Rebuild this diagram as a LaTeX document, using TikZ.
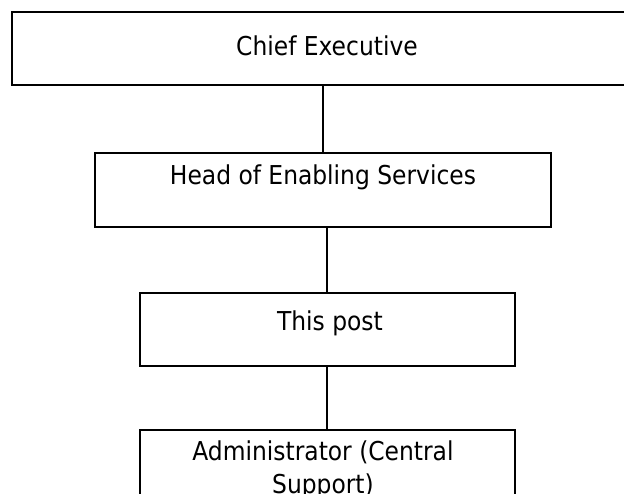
\documentclass[tikz,border=0pt]{standalone}
\usepackage{fontspec}
\setmainfont{DejaVu Sans Condensed}
\begin{document}
\begin{tikzpicture}[x=1pt,y=-1pt,
  orgbox/.style={draw=black,line width=1.7pt,fill=white},
  orglabel/.style={font=\fontsize{26}{33}\selectfont,align=center,inner sep=0pt,anchor=base},
  link/.style={draw=black,line width=1.7pt}]
\useasboundingbox (0,0) rectangle (624,493);
\begin{scope}
\clip (0,0) rectangle (624,493);
% boxes
\draw[orgbox] (12,12) rectangle (642,85);
\draw[orgbox] (95,153) rectangle (551,227);
\draw[orgbox] (140,293) rectangle (515,366);
\draw[orgbox] (140,430) rectangle (515,540);
% labels (positioned by baseline)
\node[orglabel] (ce) at (327,55) {Chief Executive};
\node[orglabel] (hes) at (323,184) {Head of Enabling Services};
\node[orglabel] (tp) at (330,330) {This post};
\node[orglabel] (adm1) at (323,460) {Administrator (Central};
\node[orglabel] (adm2) at (323,493) {Support)};
% connectors
\coordinate (c1a) at (323,85);
\coordinate (c1b) at (323,153);
\coordinate (c2a) at (327,227);
\coordinate (c2b) at (327,293);
\coordinate (c3a) at (327,366);
\coordinate (c3b) at (327,430);
\draw[link] (c1a) -- (c1b);
\draw[link] (c2a) -- (c2b);
\draw[link] (c3a) -- (c3b);
\end{scope}
\end{tikzpicture}
\end{document}
